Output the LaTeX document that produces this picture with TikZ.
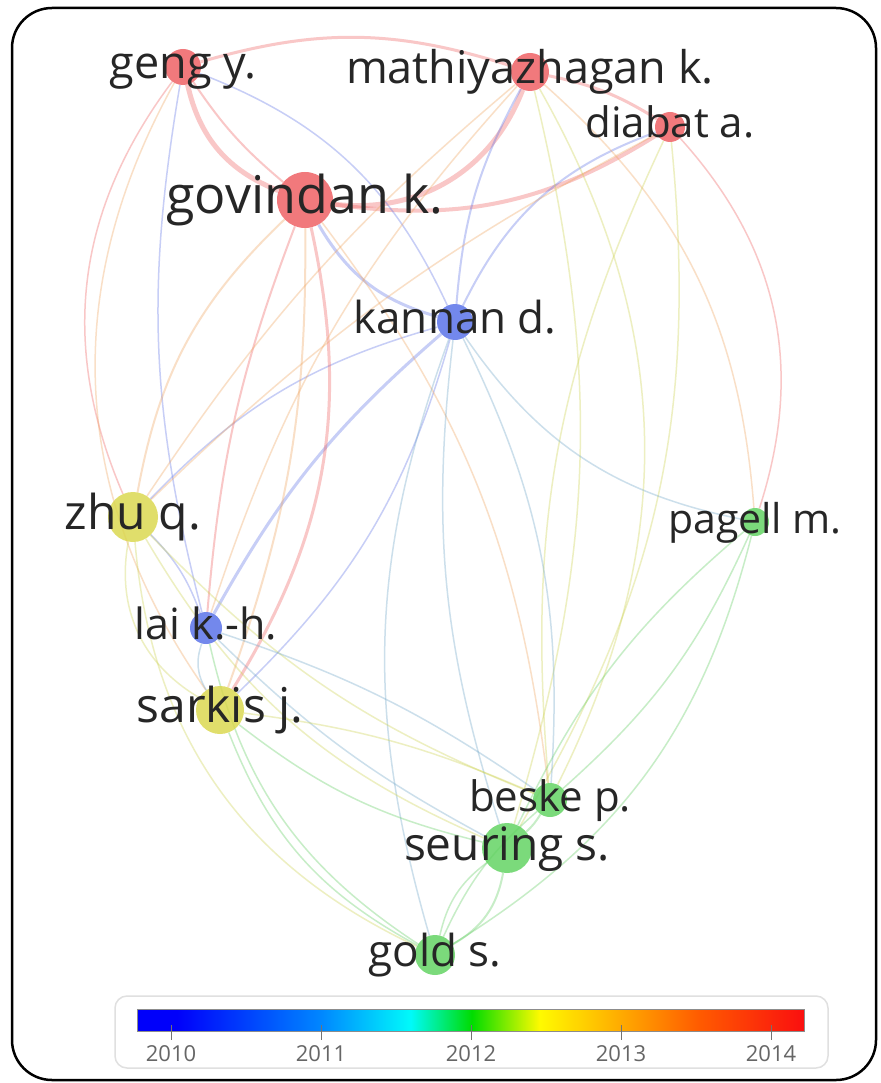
\documentclass[tikz,border=0pt]{standalone}
\usepackage{fontspec}
\setmainfont{Open Sans}
\usetikzlibrary{backgrounds}

\definecolor{yrten}{RGB}{95,115,230}
\definecolor{yreleven}{RGB}{110,165,200}
\definecolor{yrtwelve}{RGB}{95,205,95}
\definecolor{yrmid}{RGB}{205,210,80}
\definecolor{yrthirteen}{RGB}{240,165,95}
\definecolor{yrfourteen}{RGB}{238,95,95}

\definecolor{nodered}{RGB}{238,92,96}
\definecolor{nodeblue}{RGB}{85,110,232}
\definecolor{nodeyellow}{RGB}{218,215,75}
\definecolor{nodegreen}{RGB}{95,210,95}

\definecolor{cbA}{RGB}{0,0,250}
\definecolor{cbB}{RGB}{0,135,255}
\definecolor{cbC}{RGB}{0,250,250}
\definecolor{cbD}{RGB}{0,220,0}
\definecolor{cbE}{RGB}{255,250,0}
\definecolor{cbF}{RGB}{255,170,0}
\definecolor{cbG}{RGB}{255,90,0}
\definecolor{cbH}{RGB}{250,15,15}

\pgfdeclarehorizontalshading{yearbar}{100bp}{color(0bp)=(cbA); color(25bp)=(cbA);
	color(28bp)=(cbA); color(38.8bp)=(cbB); color(45.5bp)=(cbC); color(50.1bp)=(cbD);
	color(55.2bp)=(cbE); color(61.3bp)=(cbF); color(67.2bp)=(cbG); color(75bp)=(cbH);
	color(100bp)=(cbH)}

\newcommand{\lblsize}[1]{\fontsize{#1}{#1}\selectfont}

\tikzset{
	author/.style={circle, inner sep=0pt, fill=#1, fill opacity=.82},
	lbl/.style={anchor=base, inner sep=0pt, text=black!85},
	link/.style={draw=#1, draw opacity=.35, line width=1.5pt},
	yearlbl/.style={anchor=base, inner sep=0pt, text=black!60, font=\lblsize{22}},
}

\begin{document}
\begin{tikzpicture}[x=1pt, y=1pt]
	\useasboundingbox (0,0) rectangle (880,-1083);

	\node (geng) [author=nodered, minimum size=36pt] at (183,-67) {};
	\node (math) [author=nodered, minimum size=38pt] at (530,-72) {};
	\node (diabat) [author=nodered, minimum size=30pt] at (670,-127) {};
	\node (govindan) [author=nodered, minimum size=56pt] at (305,-200) {};
	\node (kannan) [author=nodeblue, minimum size=36pt] at (455,-322) {};
	\node (zhu) [author=nodeyellow, minimum size=50pt] at (133,-517) {};
	\node (pagell) [author=nodegreen, minimum size=28pt] at (755,-522) {};
	\node (lai) [author=nodeblue, minimum size=32pt] at (206,-628) {};
	\node (sarkis) [author=nodeyellow, minimum size=48pt] at (220,-710) {};
	\node (beske) [author=nodegreen, minimum size=34pt] at (550,-800) {};
	\node (seuring) [author=nodegreen, minimum size=50pt] at (507,-848) {};
	\node (gold) [author=nodegreen, minimum size=40pt] at (435,-955) {};

	\begin{scope}[on background layer]
		\fill[white] (0,0) rectangle (880,-1083);

		\draw[link=yrfourteen, line width=3pt] (geng) to[bend left=17] (math);
		\draw[link=yrfourteen, line width=5pt] (geng) to[bend right=28] (govindan);
		\draw[link=yrfourteen, line width=2pt] (geng) to[bend right=8] (govindan);
		\draw[link=yrfourteen, line width=5pt] (math) to[bend left=38] (govindan);
		\draw[link=yrfourteen, line width=4pt] (diabat) to[bend left=20] (govindan);
		\draw[link=yrfourteen, line width=3pt] (math) to[bend left=10] (diabat);
		\draw[link=yrfourteen] (geng) to[bend right=30] (zhu);
		\draw[link=yrthirteen] (geng) to[bend right=32] (sarkis);
		\draw[link=yrten] (geng) to[bend left=22] (kannan);
		\draw[link=yrten] (geng) to[bend right=12] (lai);

		\draw[link=yrten, line width=3pt] (govindan) to[bend right=22] (kannan);
		\draw[link=yrten, line width=2pt] (math) to[bend right=12] (kannan);
		\draw[link=yrten, line width=2pt] (diabat) to[bend right=22] (kannan);
		\draw[link=yrten, line width=3pt] (kannan) to[bend right=10] (lai);
		\draw[link=yrten] (kannan) to[bend right=15] (zhu);
		\draw[link=yrten] (kannan) to[bend left=15] (sarkis);
		\draw[link=yrten] (zhu) to[bend left=12] (lai);

		\draw[link=yrthirteen, line width=2pt] (govindan) to[bend right=18] (zhu);
		\draw[link=yrfourteen, line width=2pt] (govindan) to[bend right=8] (lai);
		\draw[link=yrthirteen, line width=2pt] (govindan) to[bend left=10] (sarkis);
		\draw[link=yrfourteen, line width=3pt] (govindan) to[bend left=22] (sarkis);
		\draw[link=yrthirteen] (govindan) to[bend left=15] (beske);
		\draw[link=yrthirteen] (math) to[bend right=8] (zhu);
		\draw[link=yrthirteen] (diabat) to[bend right=8] (zhu);
		\draw[link=yrthirteen] (math) to[bend right=12] (lai);
		\draw[link=yrmid] (math) to[bend left=15] (seuring);

		\draw[link=yrfourteen] (diabat) to[bend left=30] (pagell);
		\draw[link=yrthirteen] (math) to[bend left=22] (pagell);
		\draw[link=yrmid] (diabat) to[bend right=15] (beske);
		\draw[link=yrmid] (diabat) to[bend left=18] (seuring);
		\draw[link=yrmid] (math) to[bend left=28] (beske);

		\draw[link=yreleven] (kannan) to[bend right=22] (pagell);
		\draw[link=yreleven] (kannan) to[bend left=15] (beske);
		\draw[link=yreleven] (kannan) to[bend right=12] (seuring);
		\draw[link=yreleven] (kannan) to[bend right=18] (gold);

		\draw[link=yrtwelve] (pagell) to[bend left=12] (beske);
		\draw[link=yrtwelve] (pagell) to[bend right=12] (seuring);
		\draw[link=yrtwelve] (pagell) to[bend left=22] (gold);

		\draw[link=yrmid] (zhu) to[bend right=12] (beske);
		\draw[link=yrmid] (zhu) to[bend right=18] (seuring);
		\draw[link=yrmid] (zhu) to[bend right=30] (gold);
		\draw[link=yrmid] (zhu) to[bend right=35] (sarkis);

		\draw[link=yreleven] (lai) to[bend right=25] (sarkis);
		\draw[link=yreleven] (lai) to[bend left=8] (beske);
		\draw[link=yreleven] (lai) to[bend right=8] (seuring);
		\draw[link=yrtwelve] (lai) to[bend right=22] (gold);

		\draw[link=yrmid] (sarkis) to[bend left=8] (beske);
		\draw[link=yrtwelve] (sarkis) to[bend right=12] (seuring);
		\draw[link=yrtwelve] (sarkis) to[bend right=20] (gold);

		\draw[link=yrtwelve, line width=2pt] (seuring) to[bend left=25] (gold);
		\draw[link=yrtwelve] (seuring) to[bend right=20] (gold);
		\draw[link=yrtwelve] (beske) to[bend right=12] (gold);
		\draw[link=yrtwelve, line width=2pt] (beske) to[bend left=8] (seuring);
	\end{scope}

	\node (geng-l) [lbl, font=\lblsize{45}, yshift=-12pt] at (geng) {geng y.};
	\node (math-l) [lbl, font=\lblsize{45}, yshift=-12pt] at (math) {mathiyazhagan k.};
	\node (diabat-l) [lbl, font=\lblsize{42}, yshift=-11pt] at (diabat) {diabat a.};
	\node (govindan-l) [lbl, font=\lblsize{52}, yshift=-14pt] at (govindan) {govindan k.};
	\node (kannan-l) [lbl, font=\lblsize{44}, yshift=-11pt] at (kannan) {kannan d.};
	\node (zhu-l) [lbl, font=\lblsize{48}, yshift=-12pt] at (zhu) {zhu q.};
	\node (pagell-l) [lbl, font=\lblsize{41}, yshift=-11pt] at (pagell) {pagell m.};
	\node (lai-l) [lbl, font=\lblsize{43}, yshift=-11pt] at (lai) {lai k.-h.};
	\node (sarkis-l) [lbl, font=\lblsize{48}, yshift=-12pt] at (sarkis) {sarkis j.};
	\node (beske-l) [lbl, font=\lblsize{42}, yshift=-11pt] at (beske) {beske p.};
	\node (seuring-l) [lbl, font=\lblsize{46}, yshift=-12pt] at (seuring) {seuring s.};
	\node (gold-l) [lbl, font=\lblsize{44}, yshift=-11pt] at (gold) {gold s.};

	\draw[black!12, line width=1.5pt, rounded corners=12pt] (115,-996) rectangle (828,-1068);
	\shade[shading=yearbar, draw=black!45, line width=.8pt] (137,-1009) rectangle (804,-1031);

	\draw[black!55, line width=1pt] (171,-1025) -- (171,-1040);
	\draw[black!55, line width=1pt] (321,-1025) -- (321,-1040);
	\draw[black!55, line width=1pt] (471,-1025) -- (471,-1040);
	\draw[black!55, line width=1pt] (621,-1025) -- (621,-1040);
	\draw[black!55, line width=1pt] (771,-1025) -- (771,-1040);

	\node (y2010) [yearlbl] at (171,-1061) {2010};
	\node (y2011) [yearlbl] at (321,-1061) {2011};
	\node (y2012) [yearlbl] at (471,-1061) {2012};
	\node (y2013) [yearlbl] at (621,-1061) {2013};
	\node (y2014) [yearlbl] at (771,-1061) {2014};

	\draw[line width=2.5pt, rounded corners=40pt] (12,-8) rectangle (876,-1080);
\end{tikzpicture}
\end{document}
